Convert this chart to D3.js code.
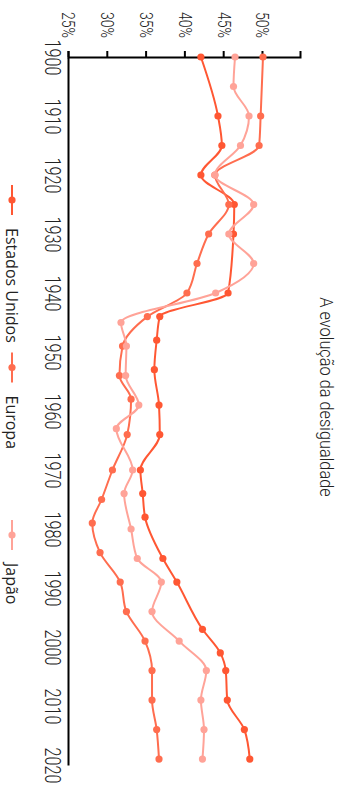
<!DOCTYPE html>
<html>
<head>
<meta charset="utf-8">
<script src="https://cdn.jsdelivr.net/npm/d3@7"></script>
<style>
  html, body { margin: 0; padding: 0; background: #fff; }
  svg { display: block; }
</style>
</head>
<body>
<svg id="chart" width="347" height="787"></svg>
<script>
// ---- data ----
const seriesNames = ["Estados Unidos", "Europa", "Japão"];
const seriesColors = ["#ff5733", "#ff6d4f", "#ffa398"];

const usYears   = [1900,1910,1915,1920,1925,1930,1940,1944,1948,1953,1959,1964,1970,1974,1978,1985,1989,1997,2001,2004,2009,2014,2019];
const usValues  = [42.0,44.2,44.7,42.0,46.3,46.2,45.5,36.7,36.3,36.0,36.6,36.7,34.2,34.5,34.8,37.1,38.9,42.2,44.5,45.2,45.4,47.6,48.3];

const europeYears  = [1900,1910,1915,1920,1925,1930,1935,1940,1944,1949,1954,1958,1964,1970,1975,1979,1984,1989,1994,1999,2004,2009,2014,2019];
const europeValues = [50.0,49.7,49.5,43.8,45.6,43.0,41.5,40.2,35.1,31.9,31.5,33.0,32.5,30.6,29.2,28.0,29.0,31.6,32.4,34.8,35.7,35.7,36.3,36.6];

const japanYears  = [1900,1905,1910,1915,1920,1925,1930,1935,1940,1945,1949,1954,1959,1963,1970,1974,1980,1985,1989,1994,1999,2004,2009,2014,2019];
const japanValues = [46.4,46.2,48.2,47.1,43.8,48.8,45.6,48.8,43.9,31.7,32.4,32.3,34.0,31.1,33.2,32.1,33.0,33.8,36.9,35.7,39.2,42.7,42.0,42.4,42.2];

const yearTicks  = [1900,1910,1920,1930,1940,1950,1960,1970,1980,1990,2000,2010,2020];
const valueTicks = [25,30,35,40,45,50];
const titleText = "A evolução da desigualdade";

// ---- layout (chart drawn in landscape, then rotated 90° clockwise) ----
const W = 787, H = 347;
const m = {left: 57, right: 22, top: 46, bottom: 69};

const svg = d3.select("#chart");
const g = svg.append("g").attr("transform", `translate(${347},0) rotate(90)`);

const x = d3.scaleLinear().domain([1900, 2020]).range([m.left, W - m.right]);
const y = d3.scaleLinear().domain([25, 54.9]).range([H - m.bottom, m.top]);

const tickFont = "Roboto, 'Open Sans', sans-serif";
const squeeze = 0.74;

// x axis (years)
const xAxis = g.append("g")
  .attr("transform", `translate(0,${H - m.bottom})`)
  .call(d3.axisBottom(x).tickValues(yearTicks).tickFormat(d3.format("d")).tickSize(0).tickSizeOuter(0).tickPadding(8));
xAxis.select(".domain").attr("stroke", "#000").attr("stroke-width", 2);
xAxis.selectAll("text")
  .attr("font-family", tickFont).attr("font-weight", 300).attr("font-size", 22).attr("fill", "#222")
  .attr("transform", `scale(${squeeze},1)`);

// y axis (values)
const yAxis = g.append("g")
  .attr("transform", `translate(${m.left},0)`)
  .call(d3.axisLeft(y).tickValues(valueTicks).tickFormat(d => d + "%").tickSize(6).tickPadding(13));
yAxis.select(".domain").attr("stroke", "#000").attr("stroke-width", 2);
yAxis.selectAll(".tick line").attr("stroke", "#000").attr("stroke-width", 2);
yAxis.selectAll("text")
  .attr("font-family", tickFont).attr("font-weight", 300).attr("font-size", 19).attr("fill", "#222")
  .attr("x", 0).attr("transform", `translate(-19,0) scale(${squeeze},1)`);

// series
const series = [
  {name: seriesNames[0], color: seriesColors[0], years: usYears, values: usValues},
  {name: seriesNames[1], color: seriesColors[1], years: europeYears, values: europeValues},
  {name: seriesNames[2], color: seriesColors[2], years: japanYears, values: japanValues}
];

const line = d3.line().x(d => x(d[0])).y(d => y(d[1])).curve(d3.curveMonotoneX);

series.forEach(s => {
  const pts = s.years.map((yr, i) => [yr, s.values[i]]);
  const sg = g.append("g");
  sg.append("path").datum(pts)
    .attr("d", line).attr("fill", "none").attr("stroke", s.color).attr("stroke-width", 2);
  sg.selectAll("circle").data(pts).join("circle")
    .attr("cx", d => x(d[0])).attr("cy", d => y(d[1])).attr("r", 3.6).attr("fill", s.color);
});

// title
g.append("text")
  .attr("transform", `translate(397,27) scale(0.86,1)`)
  .attr("text-anchor", "middle")
  .attr("font-family", tickFont).attr("font-weight", 300).attr("font-size", 19).attr("fill", "#222")
  .text(titleText);

// legend
const legendStart = 200, legendStep = 167.5, legendY = 335;
const lg = g.append("g");
series.forEach((s, i) => {
  const cx = legendStart + i * legendStep;
  const it = lg.append("g").attr("transform", `translate(${cx},${legendY})`);
  it.append("line").attr("x1", -15).attr("x2", 15).attr("y1", 0).attr("y2", 0)
    .attr("stroke", s.color).attr("stroke-width", 2);
  it.append("circle").attr("r", 3.6).attr("fill", s.color);
  it.append("text").attr("x", 28).attr("y", 0).attr("dy", "0.35em")
    .attr("font-family", "'Open Sans', sans-serif").attr("font-size", 16).attr("fill", "#222")
    .text(s.name);
});
</script>
</body>
</html>
